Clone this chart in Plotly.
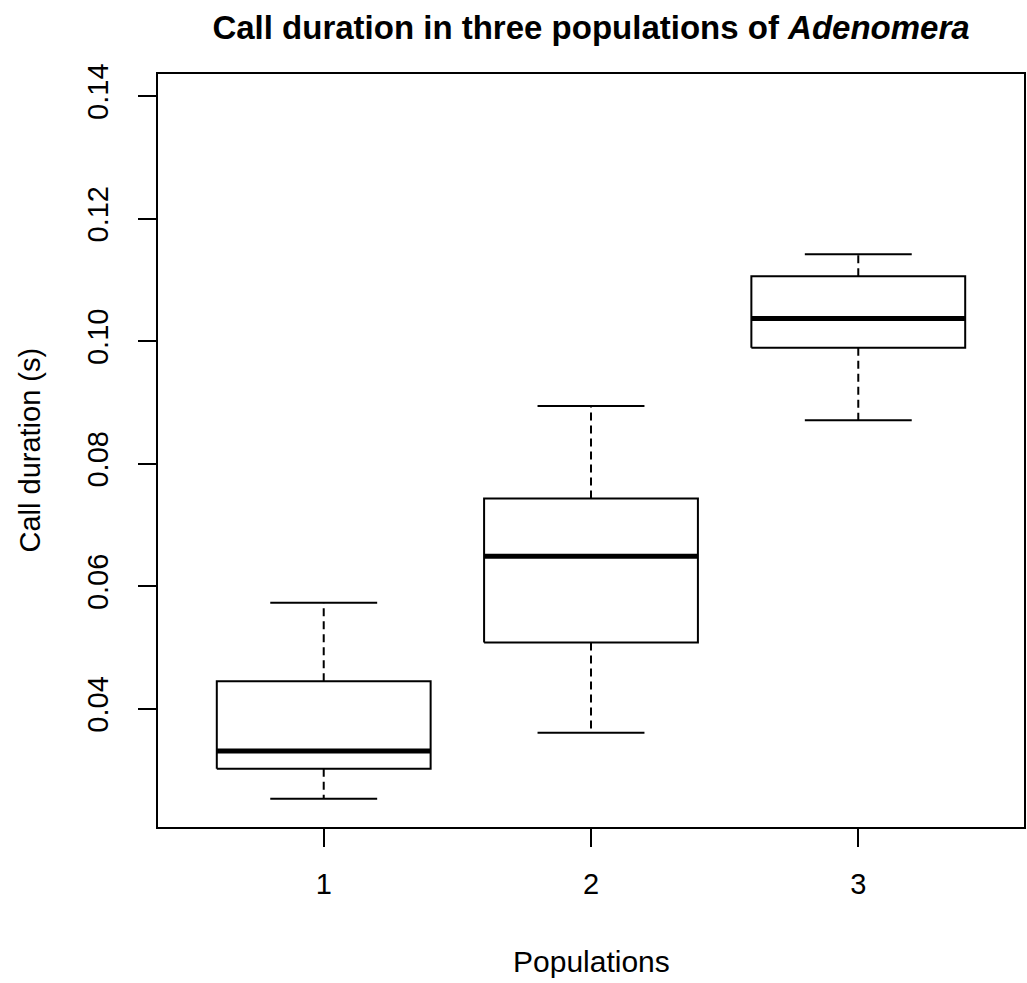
import plotly.graph_objects as go

# Data (call duration, seconds)
populations = [1, 2, 3]
tick_labels = ["1", "2", "3"]
lower_whisker = [0.0253, 0.0361, 0.0871]
q1 = [0.0302, 0.0508, 0.0989]
median = [0.0331, 0.0649, 0.1037]
q3 = [0.0445, 0.0743, 0.1106]
upper_whisker = [0.0573, 0.0894, 0.1142]
y_ticks = [0.04, 0.06, 0.08, 0.10, 0.12, 0.14]

FONT = "Liberation Sans, Arial, sans-serif"
BLACK = "#000000"
HALF_BOX = 0.4
HALF_CAP = 0.2

fig = go.Figure()

for i, p in enumerate(populations):
    # whiskers (dashed)
    fig.add_trace(go.Scatter(
        x=[p, p, None, p, p],
        y=[q3[i], upper_whisker[i], None, q1[i], lower_whisker[i]],
        mode="lines", line=dict(color=BLACK, width=2, dash="8px,5px"),
        hoverinfo="skip", showlegend=False))
    # whisker caps
    fig.add_trace(go.Scatter(
        x=[p - HALF_CAP, p + HALF_CAP, None, p - HALF_CAP, p + HALF_CAP],
        y=[upper_whisker[i], upper_whisker[i], None, lower_whisker[i], lower_whisker[i]],
        mode="lines", line=dict(color=BLACK, width=2),
        hoverinfo="skip", showlegend=False))
    # box
    fig.add_trace(go.Scatter(
        x=[p - HALF_BOX, p + HALF_BOX, p + HALF_BOX, p - HALF_BOX, p - HALF_BOX],
        y=[q1[i], q1[i], q3[i], q3[i], q1[i]],
        mode="lines", line=dict(color=BLACK, width=2),
        fill="toself", fillcolor="white",
        hoverinfo="skip", showlegend=False))
    # median
    fig.add_trace(go.Scatter(
        x=[p - HALF_BOX, p + HALF_BOX],
        y=[median[i], median[i]],
        mode="lines", line=dict(color=BLACK, width=5),
        hoverinfo="skip", showlegend=False))

fig.update_layout(
    width=1027, height=983,
    margin=dict(l=158, r=1, t=74, b=156, pad=0),
    paper_bgcolor="white", plot_bgcolor="white",
    font=dict(family=FONT, color=BLACK, size=29),
    title=dict(
        text="<b>Call duration in three populations of <i>Adenomera</i></b>",
        x=0.5, xref="paper", xanchor="center",
        y=1 - 27 / 983, yref="container", yanchor="middle",
        font=dict(family=FONT, size=33, color=BLACK)),
    xaxis=dict(
        range=[0.38, 3.62], tickvals=populations, ticktext=tick_labels,
        ticks="outside", ticklen=18, tickwidth=2, tickcolor=BLACK,
        showline=True, mirror=True, linecolor=BLACK, linewidth=2,
        showgrid=False, zeroline=False, ticklabelstandoff=12,
        tickfont=dict(size=29)),
    yaxis=dict(
        range=[0.0207, 0.1436], tickvals=y_ticks,
        ticktext=["%.2f" % v for v in y_ticks], tickangle=-90,
        ticks="outside", ticklen=18, tickwidth=2, tickcolor=BLACK,
        showline=True, mirror=True, linecolor=BLACK, linewidth=2,
        showgrid=False, zeroline=False, ticklabelstandoff=18,
        tickfont=dict(size=29)),
    annotations=[
        dict(text="Populations", xref="paper", yref="paper", x=0.5, y=0,
             xanchor="center", yanchor="middle", yshift=-134, showarrow=False,
             font=dict(size=30)),
        dict(text="Call duration (s)", xref="paper", yref="paper", x=0, y=0.5,
             xanchor="center", yanchor="middle", xshift=-129, textangle=-90,
             showarrow=False, font=dict(size=29)),
    ],
)

fig.write_html(
    "out.html",
    config={"displayModeBar": False, "staticPlot": True},
    post_script="document.body.style.margin='0';document.body.style.overflow='hidden';",
)
